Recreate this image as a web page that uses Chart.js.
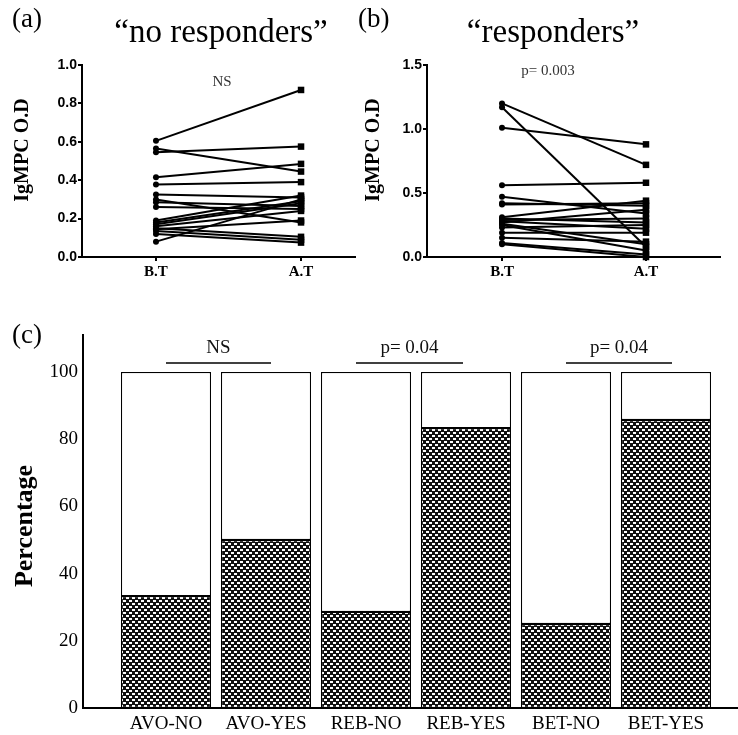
<!DOCTYPE html>
<html>
<head>
<meta charset="utf-8">
<script src="https://cdn.jsdelivr.net/npm/chart.js@4.4.1/dist/chart.umd.min.js"></script>
<style>
  body { margin: 0; background: #fff; }
  #wrap { position: relative; width: 738px; height: 735px; }
  canvas { position: absolute; }
</style>
</head>
<body>
<div id="wrap">
  <canvas id="chartA" width="370" height="300" style="left:0;top:0"></canvas>
  <canvas id="chartB" width="393" height="300" style="left:345px;top:0"></canvas>
  <canvas id="chartC" width="738" height="435" style="left:0;top:300px"></canvas>
</div>
<script>
// (a) "no responders" - IgMPC O.D before / after treatment
const timePoints = ['B.T', 'A.T'];
const noRespBefore = [0.605, 0.565, 0.545, 0.415, 0.378, 0.325, 0.30, 0.285, 0.26, 0.19, 0.18, 0.17, 0.16, 0.15, 0.135, 0.12, 0.08, 0.145];
const noRespAfter  = [0.87, 0.445, 0.575, 0.485, 0.39, 0.31, 0.18, 0.265, 0.25, 0.32, 0.29, 0.28, 0.24, 0.105, 0.09, 0.075, 0.30, 0.19];
const yTicksA = [0, 0.2, 0.4, 0.6, 0.8, 1.0];

// (b) "responders"
const respBefore = [1.20, 1.17, 1.01, 0.56, 0.47, 0.42, 0.41, 0.31, 0.30, 0.29, 0.28, 0.27, 0.26, 0.23, 0.19, 0.15, 0.11, 0.10, 0.25];
const respAfter  = [0.72, 0.08, 0.88, 0.58, 0.34, 0.40, 0.42, 0.44, 0.27, 0.30, 0.22, 0.37, 0.10, 0.25, 0.19, 0.12, 0.02, 0.0, 0.05];
const yTicksB = [0, 0.5, 1.0, 1.5];

// (c) percentage per group
const groups = ['AVO-NO', 'AVO-YES', 'REB-NO', 'REB-YES', 'BET-NO', 'BET-YES'];
const positivePct = [33.3, 50, 28.6, 83.3, 25, 85.7];
const negativePct = [66.7, 50, 71.4, 16.7, 75, 14.3];
const yTicksC = [0, 20, 40, 60, 80, 100];
const sigLabels = ['NS', 'p= 0.04', 'p= 0.04'];
const sigFrom = [0, 1.9, 4.0];
const sigTo = [1.05, 2.97, 5.06];
const sigLevel = 102.7;

const serif = '"Liberation Serif", "Times New Roman", serif';
const sans = '"Liberation Sans", Arial, sans-serif';

function textLayer(items, extra) {
  return {
    id: 'textLayer',
    afterDraw(chart) {
      const ctx = chart.ctx;
      if (extra) extra(chart, ctx);
      items.forEach(t => {
        ctx.save();
        ctx.font = t.font;
        ctx.fillStyle = t.color || '#000';
        ctx.textAlign = t.align || 'center';
        ctx.textBaseline = t.baseline || 'alphabetic';
        ctx.translate(t.x, t.y);
        if (t.rotate) ctx.rotate(t.rotate);
        ctx.fillText(t.text, 0, 0);
        ctx.restore();
      });
    }
  };
}

function pairDatasets(before, after) {
  return before.map((b, i) => ({
    data: [{ x: 0, y: b }, { x: 1, y: after[i] }],
    borderColor: '#000',
    backgroundColor: '#000',
    borderWidth: 2,
    pointStyle: ['circle', 'rect'],
    pointRadius: [3, 4.6],
    pointBorderWidth: 0,
    pointBackgroundColor: '#000',
    clip: false
  }));
}

function pairOptions(xMin, xMax, yMax, yTicks, padRight) {
  const tickFontY = { family: sans, weight: 'bold', size: 14 };
  return {
    responsive: false,
    animation: false,
    devicePixelRatio: 1,
    layout: { padding: { top: 65, right: padRight, left: 0, bottom: 0 } },
    plugins: { legend: { display: false }, tooltip: { enabled: false } },
    scales: {
      x: {
        type: 'linear', min: xMin, max: xMax,
        afterBuildTicks: s => { s.ticks = timePoints.map((_, i) => ({ value: i })); },
        ticks: { callback: v => timePoints[v], font: { family: serif, weight: 'bold', size: 15 }, color: '#000', padding: 2, maxRotation: 0, autoSkip: false },
        grid: { display: true, drawOnChartArea: false, drawTicks: true, tickLength: 4, color: '#000', lineWidth: 2 },
        border: { display: true, color: '#000', width: 2 },
        afterFit: s => { s.height = 43; }
      },
      y: {
        min: 0, max: yMax,
        afterBuildTicks: s => { s.ticks = yTicks.map(v => ({ value: v })); },
        ticks: { callback: v => v.toFixed(1), font: tickFontY, color: '#000', padding: 1 },
        grid: { display: true, drawOnChartArea: false, drawTicks: true, tickLength: 4, color: '#000', lineWidth: 2 },
        border: { display: true, color: '#000', width: 2 },
        afterFit: s => { s.width = 82; }
      }
    }
  };
}

// panel (a)
new Chart(document.getElementById('chartA').getContext('2d'), {
  type: 'line',
  data: { datasets: pairDatasets(noRespBefore, noRespAfter) },
  options: pairOptions(-0.51, 1.372, 1.0, yTicksA, 15),
  plugins: [textLayer([
    { text: '(a)', x: 12, y: 27, font: '27px ' + serif, align: 'left' },
    { text: '\u201cno responders\u201d', x: 221, y: 42, font: '33px ' + serif },
    { text: 'NS', x: 222, y: 86, font: '15px ' + serif, color: '#333' },
    { text: 'IgMPC O.D', x: 23, y: 150, font: 'bold 20px ' + serif, rotate: -Math.PI / 2, baseline: 'middle' }
  ])]
});

// panel (b)
new Chart(document.getElementById('chartB').getContext('2d'), {
  type: 'line',
  data: { datasets: pairDatasets(respBefore, respAfter) },
  options: pairOptions(-0.521, 1.514, 1.5, yTicksB, 18),
  plugins: [textLayer([
    { text: '(b)', x: 13, y: 27, font: '27px ' + serif, align: 'left' },
    { text: '\u201cresponders\u201d', x: 208, y: 42, font: '33px ' + serif },
    { text: 'p= 0.003', x: 203, y: 75, font: '15px ' + serif, color: '#333' },
    { text: 'IgMPC O.D', x: 29, y: 150, font: 'bold 20px ' + serif, rotate: -Math.PI / 2, baseline: 'middle' }
  ])]
});

// panel (c)
const ctxC = document.getElementById('chartC').getContext('2d');
const pc = document.createElement('canvas');
pc.width = 6; pc.height = 6;
const pctx = pc.getContext('2d');
pctx.fillStyle = '#111';
pctx.fillRect(0, 0, 6, 6);
pctx.fillStyle = '#fff';
pctx.fillRect(3, 0, 3, 2);
pctx.fillRect(0, 3, 3, 2);
const checker = ctxC.createPattern(pc, 'repeat');

function drawSig(chart, ctx) {
  const xs = chart.scales.x, ys = chart.scales.y;
  const yLine = ys.getPixelForValue(sigLevel);
  ctx.save();
  ctx.strokeStyle = '#000';
  ctx.lineWidth = 1.5;
  ctx.font = '19px ' + serif;
  ctx.textAlign = 'center';
  ctx.fillStyle = '#111';
  sigLabels.forEach((lab, i) => {
    const x1 = xs.getPixelForValue(sigFrom[i]);
    const x2 = xs.getPixelForValue(sigTo[i]);
    ctx.beginPath();
    ctx.moveTo(x1, yLine);
    ctx.lineTo(x2, yLine);
    ctx.stroke();
    ctx.fillText(lab, (x1 + x2) / 2, yLine - 10);
  });
  ctx.restore();
}

new Chart(ctxC, {
  type: 'bar',
  data: {
    datasets: [
      { data: groups.map((g, i) => ({ x: i, y: positivePct[i] })), backgroundColor: checker, borderColor: '#000', borderWidth: 1.2, borderSkipped: false, barPercentage: 0.9, categoryPercentage: 1 },
      { data: groups.map((g, i) => ({ x: i, y: negativePct[i] })), backgroundColor: '#fff', borderColor: '#000', borderWidth: 1.2, borderSkipped: false, barPercentage: 0.9, categoryPercentage: 1 }
    ]
  },
  options: {
    responsive: false,
    animation: false,
    devicePixelRatio: 1,
    layout: { padding: { top: 35, right: 0, left: 0, bottom: 0 } },
    plugins: { legend: { display: false }, tooltip: { enabled: false } },
    scales: {
      x: {
        type: 'linear', stacked: true, min: -0.83, max: 5.72, offset: false,
        afterBuildTicks: s => { s.ticks = groups.map((_, i) => ({ value: i })); },
        ticks: { callback: v => groups[v], font: { family: serif, size: 19 }, color: '#000', padding: 5, maxRotation: 0, autoSkip: false },
        grid: { display: false, drawTicks: false },
        border: { display: true, color: '#000', width: 2 },
        afterFit: s => { s.height = 27; }
      },
      y: {
        stacked: true, min: 0, max: 111,
        afterBuildTicks: s => { s.ticks = yTicksC.map(v => ({ value: v })); },
        ticks: { font: { family: serif, size: 19 }, color: '#000', padding: 5 },
        grid: { display: false, drawTicks: false },
        border: { display: true, color: '#000', width: 2 },
        afterFit: s => { s.width = 83; }
      }
    }
  },
  plugins: [textLayer([
    { text: '(c)', x: 12, y: 43, font: '27px ' + serif, align: 'left' },
    { text: 'Percentage', x: 25, y: 226, font: 'bold 26px ' + serif, rotate: -Math.PI / 2, baseline: 'middle' }
  ], drawSig)]
});
</script>
</body>
</html>
